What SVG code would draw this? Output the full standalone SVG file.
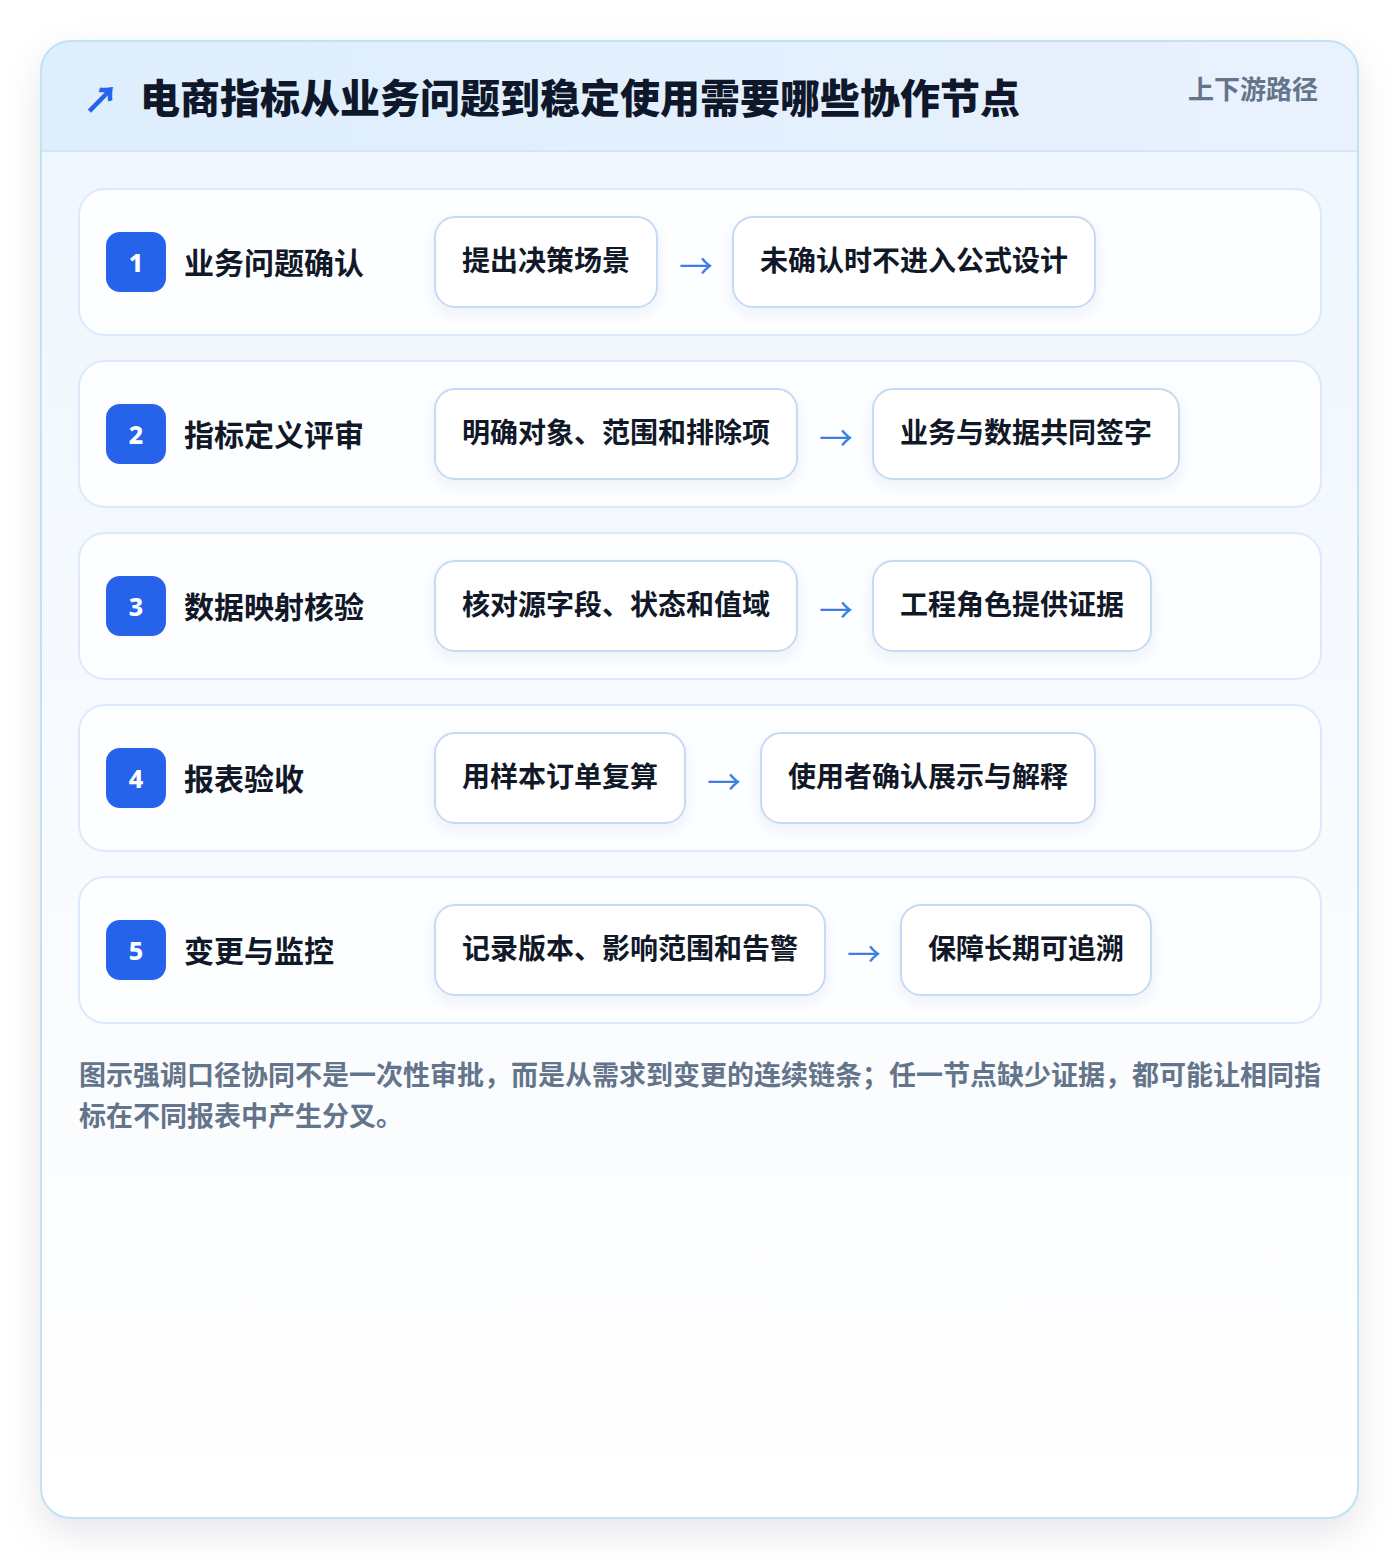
<svg xmlns="http://www.w3.org/2000/svg" width="1400" height="1560" viewBox="0 0 1400 1560">
<defs>
<linearGradient id="cardBg" x1="0" y1="0" x2="0" y2="1">
<stop offset="0" stop-color="#eef6fe"/>
<stop offset="0.6" stop-color="#f9fbfe"/>
<stop offset="1" stop-color="#ffffff"/>
</linearGradient>
<linearGradient id="headBg" x1="0" y1="0" x2="1" y2="0">
<stop offset="0" stop-color="#ddeefd"/>
<stop offset="1" stop-color="#e9f1fd"/>
</linearGradient>
<clipPath id="cardClip"><rect x="41" y="41" width="1317" height="1477" rx="30"/></clipPath>
<filter id="cardShadow" x="-10%" y="-10%" width="120%" height="120%">
<feDropShadow dx="0" dy="14" stdDeviation="18" flood-color="#0f172a" flood-opacity="0.10"/>
</filter>
<filter id="boxShadow" x="-20%" y="-30%" width="140%" height="170%">
<feDropShadow dx="0" dy="6" stdDeviation="7" flood-color="#1e3a8a" flood-opacity="0.07"/>
</filter>
<style>
.cjk{font-family:"Noto Sans CJK SC","Noto Sans",sans-serif;}
.row{fill:#fdfeff;stroke:#dbe9fa;stroke-width:2;}
.badge{fill:#2563eb;}
.num{font-family:"Noto Sans","Liberation Sans",sans-serif;font-weight:800;font-size:25px;fill:#ffffff;text-anchor:middle;}
.lbl{font-family:"Noto Sans CJK SC",sans-serif;font-weight:700;font-size:30px;fill:#111827;}
.box{fill:#ffffff;stroke:#c5daf5;stroke-width:2;}
.bt{font-family:"Noto Sans CJK SC",sans-serif;font-weight:700;font-size:28px;fill:#111827;}
.arr{font-family:"Noto Sans CJK SC",sans-serif;font-size:34px;fill:#3b7fe6;text-anchor:middle;}
.foot{font-family:"Noto Sans CJK SC",sans-serif;font-weight:700;font-size:27px;fill:#64748b;}
</style>
</defs>
<rect width="1400" height="1560" fill="#ffffff"/>
<g id="card">
<rect x="41" y="41" width="1317" height="1477" rx="30" fill="url(#cardBg)" filter="url(#cardShadow)"/>
<g clip-path="url(#cardClip)">
<rect x="41" y="41" width="1317" height="110" fill="url(#headBg)"/>
<line x1="41" y1="151" x2="1358" y2="151" stroke="#d3e5f7" stroke-width="2"/>
</g>
<rect x="41" y="41" width="1317" height="1477" rx="30" fill="none" stroke="#bfe2f6" stroke-width="2"/>
</g>
<g id="header">
<text x="101" y="113" class="cjk" font-size="36" font-weight="800" fill="#2563eb" text-anchor="middle">↗</text>
<text x="140" y="113" class="cjk" font-size="40" font-weight="900" fill="#0f172a">电商指标从业务问题到稳定使用需要哪些协作节点</text>
<text x="1318" y="99" class="cjk" font-size="26" font-weight="700" fill="#64748b" text-anchor="end">上下游路径</text>
</g>
<g id="row1">
<rect class="row" x="79" y="189" width="1242" height="146" rx="26"/>
<rect class="badge" x="106" y="232" width="60" height="60" rx="14"/>
<text class="num" x="136" y="272">1</text>
<text class="lbl" x="184" y="274">业务问题确认</text>
</g>
<g id="row1-a"><rect class="box" x="435" y="217" width="222" height="90" rx="20" filter="url(#boxShadow)"/><text class="bt" x="462" y="271">提出决策场景</text></g>
<g id="row1-b"><rect class="box" x="733" y="217" width="362" height="90" rx="20" filter="url(#boxShadow)"/><text class="bt" x="760" y="271">未确认时不进入公式设计</text></g>
<g id="row2">
<rect class="row" x="79" y="361" width="1242" height="146" rx="26"/>
<rect class="badge" x="106" y="404" width="60" height="60" rx="14"/>
<text class="num" x="136" y="444">2</text>
<text class="lbl" x="184" y="446">指标定义评审</text>
</g>
<g id="row2-a"><rect class="box" x="435" y="389" width="362" height="90" rx="20" filter="url(#boxShadow)"/><text class="bt" x="462" y="443">明确对象、范围和排除项</text></g>
<g id="row2-b"><rect class="box" x="873" y="389" width="306" height="90" rx="20" filter="url(#boxShadow)"/><text class="bt" x="900" y="443">业务与数据共同签字</text></g>
<g id="row3">
<rect class="row" x="79" y="533" width="1242" height="146" rx="26"/>
<rect class="badge" x="106" y="576" width="60" height="60" rx="14"/>
<text class="num" x="136" y="616">3</text>
<text class="lbl" x="184" y="618">数据映射核验</text>
</g>
<g id="row3-a"><rect class="box" x="435" y="561" width="362" height="90" rx="20" filter="url(#boxShadow)"/><text class="bt" x="462" y="615">核对源字段、状态和值域</text></g>
<g id="row3-b"><rect class="box" x="873" y="561" width="278" height="90" rx="20" filter="url(#boxShadow)"/><text class="bt" x="900" y="615">工程角色提供证据</text></g>
<g id="row4">
<rect class="row" x="79" y="705" width="1242" height="146" rx="26"/>
<rect class="badge" x="106" y="748" width="60" height="60" rx="14"/>
<text class="num" x="136" y="788">4</text>
<text class="lbl" x="184" y="790">报表验收</text>
</g>
<g id="row4-a"><rect class="box" x="435" y="733" width="250" height="90" rx="20" filter="url(#boxShadow)"/><text class="bt" x="462" y="787">用样本订单复算</text></g>
<g id="row4-b"><rect class="box" x="761" y="733" width="334" height="90" rx="20" filter="url(#boxShadow)"/><text class="bt" x="788" y="787">使用者确认展示与解释</text></g>
<g id="row5">
<rect class="row" x="79" y="877" width="1242" height="146" rx="26"/>
<rect class="badge" x="106" y="920" width="60" height="60" rx="14"/>
<text class="num" x="136" y="960">5</text>
<text class="lbl" x="184" y="962">变更与监控</text>
</g>
<g id="row5-a"><rect class="box" x="435" y="905" width="390" height="90" rx="20" filter="url(#boxShadow)"/><text class="bt" x="462" y="959">记录版本、影响范围和告警</text></g>
<g id="row5-b"><rect class="box" x="901" y="905" width="250" height="90" rx="20" filter="url(#boxShadow)"/><text class="bt" x="928" y="959">保障长期可追溯</text></g>
<g id="connectors">
<text class="arr" x="696" y="279">→</text>
<text class="arr" x="836" y="451">→</text>
<text class="arr" x="836" y="623">→</text>
<text class="arr" x="724" y="795">→</text>
<text class="arr" x="864" y="967">→</text>
</g>
<g id="footnote">
<text class="foot" x="79" y="1085">图示强调口径协同不是一次性审批，而是从需求到变更的连续链条；任一节点缺少证据，都可能让相同指</text>
<text class="foot" x="79" y="1126">标在不同报表中产生分叉。</text>
</g>
</svg>
